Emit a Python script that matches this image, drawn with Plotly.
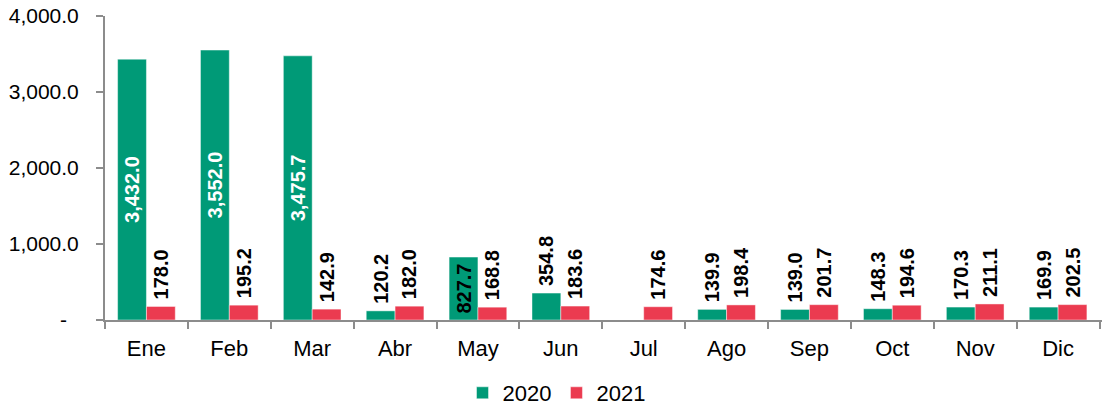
import plotly.graph_objects as go

months = ["Ene", "Feb", "Mar", "Abr", "May", "Jun", "Jul", "Ago", "Sep", "Oct", "Nov", "Dic"]
v2020 = [3432.0, 3552.0, 3475.7, 120.2, 827.7, 354.8, None, 139.9, 139.0, 148.3, 170.3, 169.9]
v2021 = [178.0, 195.2, 142.9, 182.0, 168.8, 183.6, 174.6, 198.4, 201.7, 194.6, 211.1, 202.5]
ytick_vals = [0, 1000, 2000, 3000, 4000]
ytick_text = ["-\u2007", "1,000.0", "2,000.0", "3,000.0", "4,000.0"]

GREEN = "#009A77"
RED = "#EB3B50"
FONT = "Liberation Sans, Arial, sans-serif"
PAD = "\u2009"

def fmt(v, outside=True):
    if v is None:
        return ""
    s = f"{v:,.1f}"
    return PAD + s if outside else s

pos2020 = []
col2020 = []
txt2020 = []
for v in v2020:
    if v is not None and v > 800:
        pos2020.append("inside")
        col2020.append("white" if v > 1000 else "black")
        txt2020.append(fmt(v, outside=False))
    else:
        pos2020.append("outside")
        col2020.append("black")
        txt2020.append(fmt(v))

fig = go.Figure()
fig.add_trace(go.Bar(
    x=months, y=v2020, name="2020",
    marker=dict(color=GREEN, line=dict(color="rgba(255,255,255,0.45)", width=1)),
    text=txt2020, textposition=pos2020, textangle=-90,
    insidetextanchor="middle", constraintext="none",
    textfont=dict(family=FONT, size=20, color=col2020, weight="bold"),
    outsidetextfont=dict(family=FONT, size=20, color="black", weight="bold"),
    cliponaxis=False,
))
fig.add_trace(go.Bar(
    x=months, y=v2021, name="2021",
    marker=dict(color=RED, line=dict(color="rgba(255,255,255,0.45)", width=1)),
    text=[fmt(v) for v in v2021], textposition="outside", textangle=-90,
    constraintext="none",
    textfont=dict(family=FONT, size=20, color="black", weight="bold"),
    cliponaxis=False,
))

fig.update_layout(
    width=1102, height=414,
    margin=dict(l=105, r=0, t=16, b=94),
    paper_bgcolor="white", plot_bgcolor="white",
    barmode="group", bargap=0.304, bargroupgap=0,
    font=dict(family=FONT, size=22, color="black"),
    showlegend=True,
    legend=dict(orientation="h", xref="container", yref="container",
                x=0.505, xanchor="center", y=-0.02, yanchor="bottom",
                font=dict(size=22), traceorder="normal"),
    xaxis=dict(range=[-0.5, 11.53], showline=True, linecolor="#8c8c8c", linewidth=2,
               ticks="outside", tickson="boundaries", ticklen=7,
               tickcolor="#8c8c8c", tickwidth=2, showgrid=False,
               ticklabelstandoff=8,
               tickfont=dict(size=22)),
    yaxis=dict(range=[0, 4000], showline=True, linecolor="#8c8c8c", linewidth=2,
               ticks="outside", ticklen=7, tickcolor="#8c8c8c", tickwidth=2,
               showgrid=False, zeroline=False,
               tickvals=ytick_vals, ticktext=ytick_text,
               ticklabelstandoff=13,
               tickfont=dict(size=21)),
)

fig.write_html("out.html", config={"displayModeBar": False},
               post_script="document.body.style.margin='0px';document.body.style.overflow='hidden';")
